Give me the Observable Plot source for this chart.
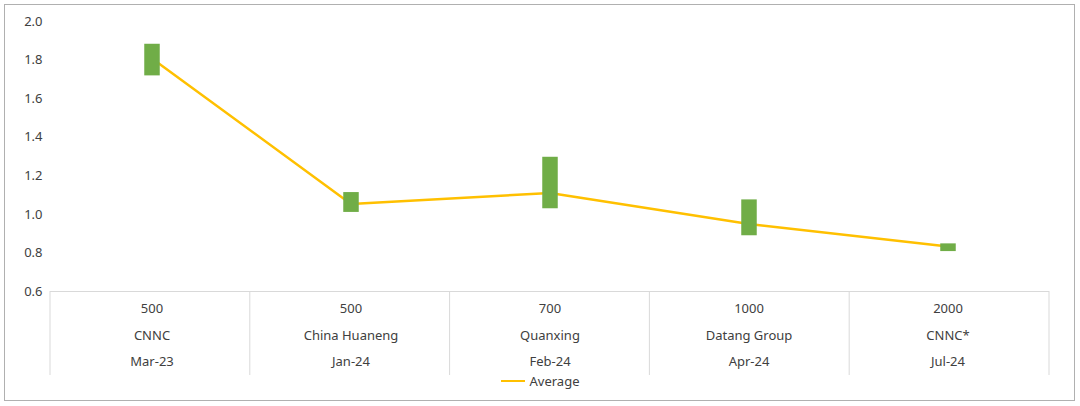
<!DOCTYPE html>
<html>
<head>
<meta charset="utf-8">
<script src="https://cdn.jsdelivr.net/npm/d3@7"></script>
<script src="https://cdn.jsdelivr.net/npm/@observablehq/plot@0.6"></script>
<style>
  html, body { margin: 0; padding: 0; background: #fff; }
  body { width: 1080px; height: 406px; position: relative; overflow: hidden; font-family: "Noto Sans", sans-serif; }
  #frame { position: absolute; left: 4px; top: 4px; width: 1071px; height: 397px; border: 1px solid #b0b0b0; box-sizing: border-box; }
  #chart { position: absolute; left: 0; top: 0; }
  #legend { position: absolute; left: 0; top: 372px; width: 1080px; height: 18px; display: flex; justify-content: center; align-items: center; font-size: 13px; color: #404040; }
  #legend .sw { display: inline-block; width: 24px; height: 2.5px; background: #FFC000; margin-right: 5px; }
</style>
</head>
<body>
<div id="frame"></div>
<div id="chart"></div>
<div id="legend"><span class="sw"></span><span>Average</span></div>
<script>
const capacities = ["500", "500", "700", "1000", "2000"];
const companies = ["CNNC", "China Huaneng", "Quanxing", "Datang Group", "CNNC*"];
const dates = ["Mar-23", "Jan-24", "Feb-24", "Apr-24", "Jul-24"];
const lowValues = [1.718, 1.010, 1.029, 0.889, 0.807];
const highValues = [1.882, 1.113, 1.296, 1.075, 0.847];
const averageValues = [1.808, 1.054, 1.111, 0.950, 0.833];
const yTicks = [0.6, 0.8, 1.0, 1.2, 1.4, 1.6, 1.8, 2.0];

const keys = companies.map((c, i) => i);
const data = keys.map(i => ({
  key: i,
  capacity: capacities[i],
  company: companies[i],
  date: dates[i],
  low: lowValues[i],
  high: highValues[i],
  avg: averageValues[i]
}));

const W = 1080, H = 378, MT = 21, MB = 87, ML = 50, MR = 31;
const textColor = "#404040";
const gridColor = "#d9d9d9";

const plot = Plot.plot({
  width: W,
  height: H,
  marginTop: MT,
  marginBottom: MB,
  marginLeft: ML,
  marginRight: MR,
  style: { fontFamily: "'Noto Sans', sans-serif", fontSize: "13px", color: textColor, background: "transparent" },
  x: { type: "band", domain: keys, padding: 0, axis: null },
  y: { domain: [0.6, 2.0], axis: null },
  marks: [
    Plot.axisY({ ticks: yTicks, tickFormat: d3.format(".1f"), tickSize: 0, tickPadding: 8, label: null, fontSize: 13, fill: textColor }),
    Plot.ruleY([0.6], { stroke: gridColor, strokeWidth: 1 }),
    Plot.line(data, { x: "key", y: "avg", stroke: "#FFC000", strokeWidth: 2.5 }),
    Plot.ruleX(data, { x: "key", y1: "low", y2: "high", stroke: "#70AD47", strokeWidth: 15.5 }),
    Plot.text(data, { x: "key", y: () => 0.6, text: "capacity", dy: 17, fill: textColor, fontSize: 13 }),
    Plot.text(data, { x: "key", y: () => 0.6, text: "company", dy: 44, fill: textColor, fontSize: 13 }),
    Plot.text(data, { x: "key", y: () => 0.6, text: "date", dy: 70, fill: textColor, fontSize: 13 })
  ]
});

// category table separators, positioned from the plot's own x and y scales
const xs = plot.scale("x");
const ys = plot.scale("y");
const xScale = d3.scaleBand().domain(xs.domain).range(xs.range).padding(0);
const yScale = d3.scaleLinear().domain(ys.domain).range(ys.range);
const bounds = keys.map(k => xScale(k)).concat([xScale(keys[keys.length - 1]) + xScale.bandwidth()]);
const y0 = yScale(0.6);
const svg = d3.select(plot);
svg.insert("g", ":first-child")
  .selectAll("line")
  .data(bounds)
  .join("line")
  .attr("x1", d => d).attr("x2", d => d)
  .attr("y1", y0).attr("y2", y0 + 84)
  .attr("stroke", gridColor)
  .attr("stroke-width", 1);

document.getElementById("chart").appendChild(plot);
</script>
</body>
</html>
